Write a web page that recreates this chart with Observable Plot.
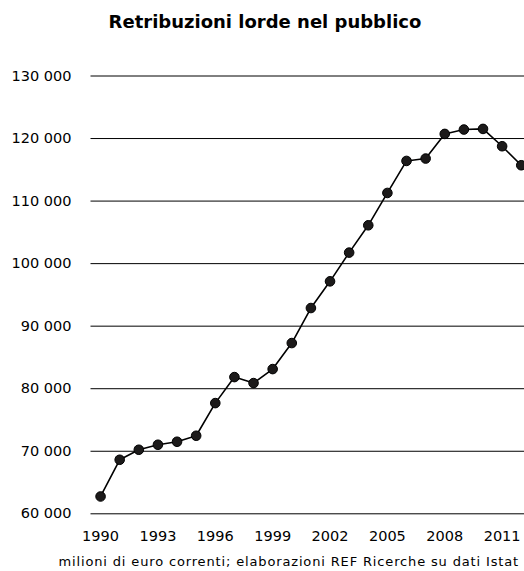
<!DOCTYPE html>
<html>
<head>
<meta charset="utf-8">
<script src="https://cdn.jsdelivr.net/npm/d3@7"></script>
<script src="https://cdn.jsdelivr.net/npm/@observablehq/plot@0.6"></script>
<style>
  html, body { margin: 0; padding: 0; background: #fff; overflow: hidden; }
  #wrap { width: 524px; height: 571px; position: relative; font-family: "DejaVu Sans", Verdana, sans-serif; color: #000; }
  #title { height: 27.5px; padding-top: 12.5px; line-height: 18px; font-size: 18px; font-weight: bold; text-align: center; padding-left: 6px; white-space: nowrap; }
  #caption { padding-top: 10.2px; line-height: 16px; font-size: 13px; letter-spacing: 0.85px; text-align: right; padding-right: 5px; white-space: nowrap; }
</style>
</head>
<body>
<div id="wrap">
  <div id="title">Retribuzioni lorde nel pubblico</div>
  <div id="chart"></div>
  <div id="caption">milioni di euro correnti; elaborazioni REF Ricerche su dati Istat</div>
</div>
<script>
const years = [1990, 1991, 1992, 1993, 1994, 1995, 1996, 1997, 1998, 1999, 2000, 2001,
               2002, 2003, 2004, 2005, 2006, 2007, 2008, 2009, 2010, 2011, 2012];
const values = [62770, 68640, 70240, 71040, 71520, 72480, 77700, 81860, 80900, 83140, 87300, 92900,
                97170, 101760, 106130, 111300, 116420, 116800, 120740, 121440, 121540, 118770, 115730];
const yTicks = [60000, 70000, 80000, 90000, 100000, 110000, 120000, 130000];
const xTicks = [1990, 1993, 1996, 1999, 2002, 2005, 2008, 2011];

const data = years.map((y, i) => ({year: y, value: values[i]}));
const fmt = d => d3.format(",")(d).replace(/,/g, " ");

const chart = Plot.plot({
  width: 524,
  height: 504,
  marginLeft: 90.5,
  marginRight: 0,
  marginTop: 35.5,
  marginBottom: 30.7,
  style: {fontFamily: "DejaVu Sans, Verdana, sans-serif", fontSize: "14.5px", color: "#000", background: "#fff", overflow: "visible"},
  x: {domain: [1989.5, 2012.17], ticks: xTicks, tickFormat: d => String(d), tickSize: 0, tickPadding: 17, label: null},
  y: {domain: [60000, 130000], ticks: yTicks, tickFormat: fmt, tickSize: 0, tickPadding: 19.5, label: null},
  marks: [
    Plot.ruleY(yTicks, {stroke: "#000", strokeWidth: 1}),
    Plot.line(data, {x: "year", y: "value", stroke: "#000", strokeWidth: 1.6}),
    Plot.dot(data, {x: "year", y: "value", r: 4.8, fill: "#1c1a1a", stroke: "#000", strokeWidth: 1}),
    Plot.axisX({ticks: xTicks, tickFormat: d => String(d), tickSize: 0, tickPadding: 17, fill: "#000"}),
    Plot.axisY({ticks: yTicks, tickFormat: fmt, tickSize: 0, tickPadding: 19.5, fill: "#000"})
  ]
});
document.getElementById("chart").appendChild(chart);
</script>
</body>
</html>
